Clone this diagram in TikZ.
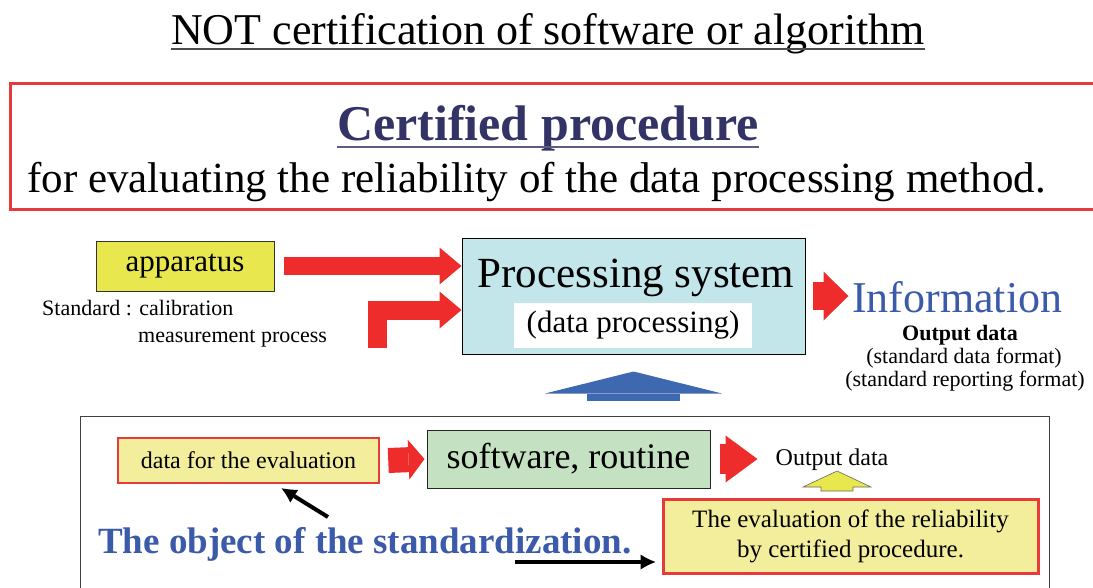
\documentclass[tikz,border=0pt]{standalone}
\usepackage{fontspec}
\setmainfont{Liberation Serif}
\usetikzlibrary{arrows.meta,calc,positioning}
\definecolor{arrowred}{RGB}{238,44,44}
\definecolor{boxred}{RGB}{232,58,58}
\definecolor{appyellow}{RGB}{232,232,78}
\definecolor{paleyellow}{RGB}{242,238,156}
\definecolor{proccyan}{RGB}{194,230,234}
\definecolor{softgreen}{RGB}{196,226,194}
\definecolor{navy}{RGB}{51,51,102}
\definecolor{infoblue}{RGB}{59,90,170}
\definecolor{arrowblue}{RGB}{62,104,176}
\newcommand{\fsz}[2]{\fontsize{#1}{#2}\selectfont}

\begin{document}
\begin{tikzpicture}[x=1pt,y=-1pt,line join=miter,
  txt/.style={inner sep=0pt,anchor=base},
  fatarrow/.style n args={4}{draw=#1,line width=#2,
    -{Triangle[length=#3,width=#4,line width=0pt]}},
  pointer/.style={draw=black,line width=4pt,
    -{Latex[length=15pt,width=15pt,line width=0pt]}}]
\useasboundingbox (0,0) rectangle (1093,587);
%% heading
\node (title) at (548,44) [txt,font=\fsz{44}{44}] {NOT certification of software or algorithm};
\draw [line width=2pt,black!70] ([yshift=-5pt]title.base west) -- ([yshift=-5pt]title.base east);
\draw [boxred,line width=3pt] (1110,83) -- (10,83) -- (10,209) -- (1110,209);
\node (cert) at (548,140) [txt,text=navy,font=\bfseries\fsz{50}{50}] {Certified procedure};
\draw [line width=1.5pt,navy!80] ([yshift=-7pt]cert.base west) -- ([yshift=-7pt]cert.base east);
\node (certsub) at (27,192) [txt,anchor=base west,font=\fsz{43}{43}] {for evaluating the reliability of the data processing method.};
%% processing system
\node (app) at (185,266) [draw=black!80,line width=1pt,fill=appyellow,minimum width=178pt,minimum height=50pt,inner sep=0pt,font=\fsz{31}{31}] {apparatus};
\node (stdcal) at (42,315) [txt,anchor=base west,font=\fsz{22}{22}] {Standard : calibration};
\node (stdmeas) at (138,342) [txt,anchor=base west,font=\fsz{22}{22}] {measurement process};
\node (proc) at (633.5,296) [draw=black,line width=1pt,fill=proccyan,minimum width=343pt,minimum height=116pt,inner sep=0pt] {};
\node (proctxt) at (636,287) [txt,font=\fsz{43}{43}] {Processing system};
\node (procsub) at (633,325.5) [fill=white,minimum width=238pt,minimum height=45pt,inner sep=0pt,font=\fsz{31}{31}] {(data processing)};
\node (info) at (852,312) [txt,anchor=base west,text=infoblue,font=\fsz{44}{44}] {Information};
\node (outdata) at (960,340) [txt,font=\bfseries\fsz{22}{22}] {Output data};
\node (fmtdata) at (964,363) [txt,font=\fsz{22}{22}] {(standard data format)};
\node (fmtrep) at (965,386) [txt,font=\fsz{22}{22}] {(standard reporting format)};
\coordinate (stdin) at (377,348);
\draw [fatarrow={arrowred}{18pt}{22pt}{37pt}] ([xshift=9pt]app.east) -- (proc.west |- app.east);
\draw [fatarrow={arrowred}{19pt}{22pt}{37pt}] (stdin) |- ([yshift=-14pt]proc.west);
\draw [fatarrow={arrowred}{28pt}{25pt}{49pt}] ([xshift=7pt]proc.east) -- ([xshift=43pt]proc.east);
\draw [fatarrow={arrowblue}{93pt}{22pt}{177pt}] ([yshift=-46pt]proc.south) -- ([yshift=-17pt]proc.south);
%% evaluation
\node (lowbox) at (564.5,508) [draw=black!75,line width=1pt,minimum width=969pt,minimum height=184pt,inner sep=0pt] {};
\node (evaldata) at (248.5,460.5) [draw=boxred,line width=2.5pt,fill=paleyellow,minimum width=261pt,minimum height=45pt,inner sep=0pt,font=\fsz{24}{24}] {data for the evaluation};
\node (soft) at (568.5,459) [draw=black!85,line width=1pt,fill=softgreen,minimum width=283pt,minimum height=58pt,inner sep=0pt,font=\fsz{36}{36}] {software, routine};
\node (lowout) at (832,465) [txt,font=\fsz{24}{24}] {Output data};
\node (evalbox) at (850.5,536) [draw=boxred,line width=3pt,fill=paleyellow,minimum width=375pt,minimum height=74pt,inner sep=0pt,align=center,font=\fsz{25}{30}] {The evaluation of the reliability\\by certified procedure.};
\node (objtext) at (98,553) [txt,anchor=base west,text=infoblue,font=\bfseries\fsz{37}{37}] {The object of the standardization.};
\draw [fatarrow={arrowred}{25pt}{16pt}{40pt}] ([xshift=8pt]evaldata.east) -- ([xshift=-2pt]soft.west);
\draw [fatarrow={arrowred}{30pt}{32pt}{47pt}] ([xshift=9pt]soft.east) -- ([xshift=47pt]soft.east);
\coordinate (yarr) at (837,491);
\filldraw [fill=appyellow,draw=black!60,line width=0.6pt] (yarr) ++(-16,0) -- ++(0,-4) -- ++(-18,0) -- ++(34,-16) -- ++(34,16) -- ++(-18,0) -- ++(0,4) -- cycle;
\coordinate (objtail) at (328,517);
\coordinate (objline) at (515,562);
\draw [pointer] (objtail) -- ([xshift=33pt,yshift=-4pt]evaldata.south);
\draw [pointer] (objline) -- ([xshift=-6pt]objline -| evalbox.west);
%
\end{tikzpicture}
\end{document}
